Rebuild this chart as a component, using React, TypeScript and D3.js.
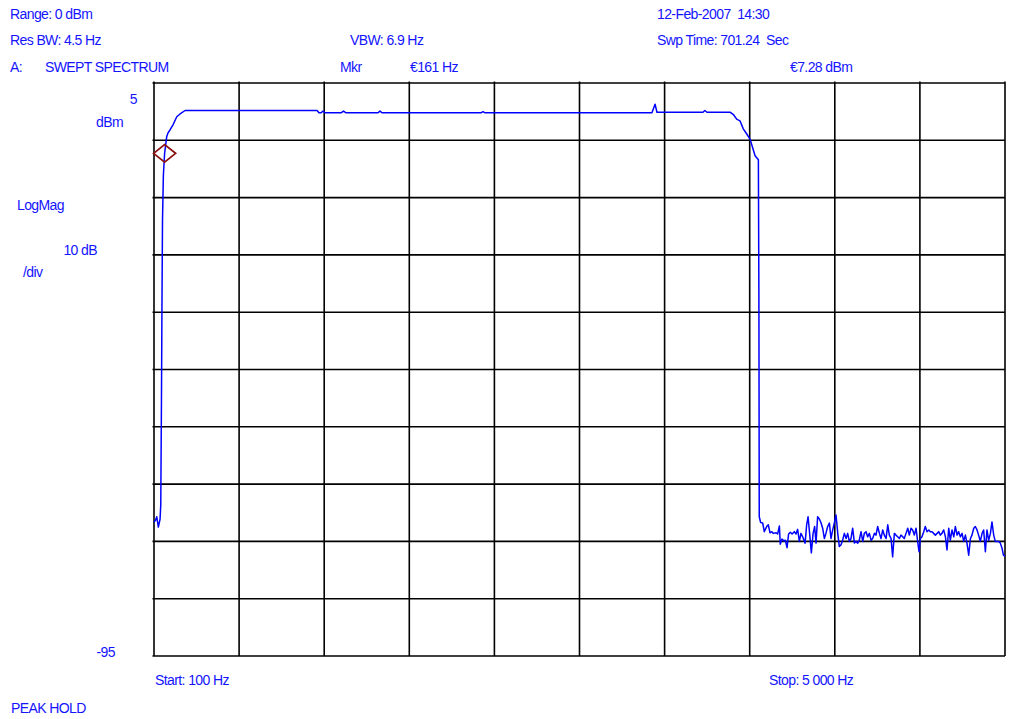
import React from "react";
import * as d3 from "d3";

// Analyzer sweep settings
const START_HZ = 100;
const STOP_HZ = 5000;
const REF_LEVEL_DBM = 5;
const BOTTOM_LEVEL_DBM = -95;
const DB_PER_DIV = 10;
const FREQ_DIVS = 10;

// Marker readout
const markerFreqHz = 161;
const markerLevelDbm = -7.28;

// Peak-hold trace: frequency (Hz) and level (dBm)
const traceFreqHz = [
  100, 109, 116, 125, 135, 139, 143, 146, 149, 154, 161, 173, 181, 192, 211, 231, 250, 279,
  1039, 1050, 1062, 1073, 1085, 1177, 1191, 1206, 1390, 1401, 1413, 1983, 1994, 2006,
  2967, 2985, 2996, 3261, 3272, 3284, 3417, 3436, 3455, 3474, 3493, 3513, 3532, 3551,
  3561, 3580, 3583, 3585,
  3593, 3605, 3614, 3628, 3637, 3647, 3657, 3666, 3682, 3691, 3701, 3706, 3716, 3726,
  3735, 3745, 3754, 3764, 3774, 3787, 3797, 3806, 3816, 3825, 3835, 3849, 3858, 3866,
  3875, 3885, 3895, 3904, 3912, 3921, 3931, 3941, 3950, 3960, 3969, 3979, 3989, 3998,
  4008, 4017, 4027, 4037, 4046, 4056, 4065, 4075, 4085, 4094, 4104, 4113, 4123, 4133,
  4142, 4152, 4161, 4171, 4181, 4190, 4200, 4209, 4219, 4229, 4238, 4248, 4257, 4267,
  4277, 4286, 4296, 4305, 4315, 4325, 4334, 4344, 4353, 4363, 4372, 4382, 4392, 4401,
  4411, 4420, 4430, 4440, 4449, 4459, 4468, 4478, 4488, 4497, 4505, 4513, 4522, 4532,
  4541, 4551, 4561, 4570, 4580, 4589, 4599, 4609, 4618, 4628, 4637, 4647, 4657, 4666,
  4676, 4685, 4695, 4705, 4714, 4724, 4733, 4743, 4753, 4762, 4772, 4781, 4791, 4801,
  4810, 4820, 4829, 4839, 4848, 4858, 4868, 4877, 4887, 4896, 4906, 4916, 4925, 4935,
  4944, 4954, 4964, 4973, 4983, 4991, 5000,
];
const traceLevelDbm = [
  -71.6, -71.3, -70.7, -72.5, -71.1, -68.6, -50.3, -32.9, -18.9, -11.1, -7.3, -4.4, -3.7, -3.2, -2.2, -0.9, -0.4, 0.2,
  0.2, -0.2, -0.2, 0.1, -0.2, -0.2, 0.1, -0.2, -0.2, 0.1, -0.2, -0.2, 0.0, -0.2,
  -0.2, 1.3, -0.1, -0.1, 0.2, -0.1, -0.1, -0.5, -1.3, -1.6, -3.0, -3.9, -4.8, -6.7,
  -7.7, -8.4, -32.9, -70.7,
  -71.7, -71.8, -73.3, -72.4, -72.1, -73.5, -73.3, -73.6, -73.5, -73.7, -72.3, -75.5, -74.6, -74.9,
  -74.8, -76.1, -73.7, -73.4, -73.7, -73.3, -73.7, -72.9, -75.0, -73.6, -74.2, -75.3, -72.1, -70.7,
  -73.6, -77.0, -73.6, -72.4, -75.3, -70.7, -71.1, -71.8, -72.7, -74.5, -73.6, -72.4, -71.8, -74.5,
  -73.0, -71.8, -70.4, -73.6, -75.9, -75.6, -74.8, -73.6, -74.5, -73.6, -75.0, -74.5, -72.7, -75.3,
  -75.0, -75.3, -74.8, -73.3, -75.0, -73.6, -73.3, -74.2, -73.6, -74.8, -74.5, -73.6, -73.9, -72.4,
  -73.6, -74.5, -73.0, -73.9, -74.5, -72.1, -73.9, -74.5, -77.7, -73.6, -73.9, -74.2, -74.5, -73.9,
  -74.2, -74.5, -73.6, -72.7, -73.9, -72.7, -73.0, -73.9, -72.7, -75.0, -76.8, -74.5, -74.2, -73.3,
  -72.4, -73.3, -73.0, -73.3, -73.3, -73.6, -73.9, -73.6, -73.3, -73.9, -73.6, -73.0, -74.2, -76.5,
  -72.7, -74.8, -73.0, -74.2, -72.4, -73.9, -73.3, -74.2, -73.6, -75.0, -73.9, -75.3, -77.4, -74.5,
  -73.9, -72.7, -72.4, -73.0, -73.9, -75.0, -73.6, -73.0, -76.8, -73.0, -74.8, -73.6, -71.6, -73.9,
  -75.0, -75.0, -75.0, -75.3, -76.2, -77.4, -77.6,
];

// Annotation texts
const headerLeft = ["Range: 0 dBm", "Res BW: 4.5 Hz"];
const headerRight = ["12-Feb-2007  14:30", "Swp Time: 701.24  Sec"];
const vbwLabel = "VBW: 6.9 Hz";
const channelLabel = "A:";
const modeLabel = "SWEPT SPECTRUM";
const markerLabel = "Mkr";
const markerFreqText = "€161 Hz";
const markerLevelText = "€7.28 dBm";
const refLevelText = "5";
const unitText = "dBm";
const scaleTypeText = "LogMag";
const scaleText = "10 dB";
const perDivText = "/div";
const bottomLevelText = "-95";
const startText = "Start: 100 Hz";
const stopText = "Stop: 5 000 Hz";
const holdText = "PEAK HOLD";

const W = 1009;
const H = 719;
const plot = { left: 154, right: 1005, top: 83, bottom: 656 };

const TEXT = "#1414ff";
const FONT = "'Liberation Sans', Arial, sans-serif";

export default function App() {
  const x = d3.scaleLinear().domain([START_HZ, STOP_HZ]).range([plot.left, plot.right]);
  const y = d3.scaleLinear().domain([BOTTOM_LEVEL_DBM, REF_LEVEL_DBM]).range([plot.bottom, plot.top]);

  const freqStep = (STOP_HZ - START_HZ) / FREQ_DIVS;
  const xGrid = d3.range(FREQ_DIVS + 1).map((i) => START_HZ + i * freqStep);
  const yGrid = d3.range(BOTTOM_LEVEL_DBM, REF_LEVEL_DBM + 0.001, DB_PER_DIV);

  const line = d3
    .line<number>()
    .x((_, i) => x(traceFreqHz[i]))
    .y((d) => y(d))
    .curve(d3.curveLinear);
  const tracePath = line(traceLevelDbm) ?? "";

  const mx = x(markerFreqHz);
  const my = y(markerLevelDbm);
  const diamond = `M${mx - 11},${my} L${mx},${my - 8.8} L${mx + 11},${my} L${mx},${my + 8.8} Z`;

  const t = (s: string, px: number, py: number, anchor: "start" | "end" = "start") => (
    <text
      x={px}
      y={py}
      textAnchor={anchor}
      fill={TEXT}
      fontFamily={FONT}
      fontSize={14}
      letterSpacing={-0.6}
      style={{ whiteSpace: "pre" }}
    >
      {s}
    </text>
  );

  return (
    <svg
      width={W}
      height={H}
      viewBox={`0 0 ${W} ${H}`}
      style={{ position: "absolute", left: 0, top: 0, background: "#fff" }}
    >
      <rect x={0} y={0} width={W} height={H} fill="#fff" />

      {/* header */}
      {t(headerLeft[0], 10, 19)}
      {t(headerLeft[1], 10, 45)}
      {t(vbwLabel, 350, 45)}
      {t(channelLabel, 10, 72)}
      {t(modeLabel, 45, 72)}
      {t(markerLabel, 340, 72)}
      {t(markerFreqText, 410, 72)}
      {t(headerRight[0], 657, 19)}
      {t(headerRight[1], 657, 45)}
      {t(markerLevelText, 790, 72)}

      {/* left scale annotations */}
      {t(refLevelText, 137, 104, "end")}
      {t(unitText, 123, 127, "end")}
      {t(scaleTypeText, 17, 210)}
      {t(scaleText, 97, 255, "end")}
      {t(perDivText, 23, 277)}
      {t(bottomLevelText, 115, 657, "end")}

      {/* footer */}
      {t(startText, 155, 685)}
      {t(stopText, 769, 685)}
      {t(holdText, 11, 713)}

      {/* graticule */}
      <g stroke="#000" strokeWidth={1.6} fill="none">
        {xGrid.map((f, i) => (
          <line key={`vx${i}`} x1={x(f)} x2={x(f)} y1={plot.top - 1.5} y2={plot.bottom} />
        ))}
        {yGrid.map((v, i) => (
          <line key={`hy${i}`} x1={plot.left - 1.5} x2={plot.right} y1={y(v)} y2={y(v)} />
        ))}
      </g>

      {/* trace */}
      <path d={tracePath} fill="none" stroke="#0000ff" strokeWidth={1.5} strokeLinejoin="round" />

      {/* marker */}
      <path d={diamond} fill="none" stroke="#8b1111" strokeWidth={1.8} />
    </svg>
  );
}
